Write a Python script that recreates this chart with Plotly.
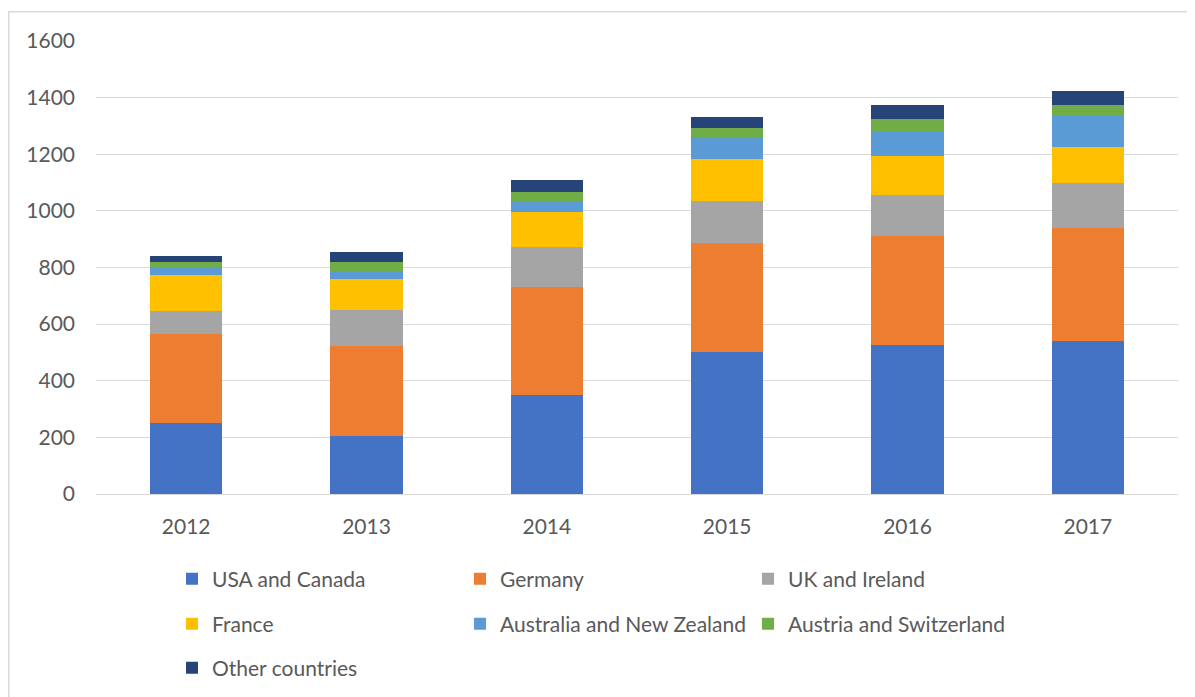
import plotly.graph_objects as go

years = ["2012", "2013", "2014", "2015", "2016", "2017"]
usa_canada = [251, 205, 350, 500, 528, 541]
germany = [313, 318, 381, 386, 384, 399]
uk_ireland = [81, 126, 141, 149, 145, 158]
france = [128, 109, 123, 149, 137, 126]
australia_nz = [26, 28, 35, 73, 86, 110]
austria_switz = [22, 35, 36, 37, 44, 40]
other = [19, 32, 42, 36, 51, 50]

series = [
    ("USA and Canada", usa_canada, "#4472C4", "legend"),
    ("Germany", germany, "#ED7D31", "legend"),
    ("UK and Ireland", uk_ireland, "#A5A5A5", "legend"),
    ("France", france, "#FFC000", "legend2"),
    ("Australia and New Zealand", australia_nz, "#5B9BD5", "legend2"),
    ("Austria and Switzerland", austria_switz, "#70AD47", "legend2"),
    ("Other countries", other, "#264478", "legend3"),
]

FONT = "Lato, 'Open Sans', sans-serif"
TXT = "#595959"
FS = 21

fig = go.Figure()
for name, vals, color, lg in series:
    fig.add_trace(go.Bar(x=years, y=vals, name=name, marker_color=color,
                         marker_line_width=0, legend=lg))

# page has an 8px body margin; figure is offset by (8, 8)
OFF = 8
W, H = 1195 - OFF, 697 - OFF
PL, PR, PT, PB = 96, 1178, 41, 494   # plot area in page pixels
L, T = PL - OFF, PT - OFF
R = W - (PR - OFF)
B = H - (PB - OFF)
pw = PR - PL
ph = PB - PT

def px(x):
    return (x - PL) / pw

def py(y):
    return (PB - y) / ph

def cx(x):
    return (x - OFF) / W

def cy(y):
    return 1 - (y - OFF) / H

leg_common = dict(orientation="h", traceorder="normal", entrywidth=243,
                  itemwidth=30, font=dict(family=FONT, size=FS, color=TXT),
                  bgcolor="rgba(0,0,0,0)", xanchor="left", yanchor="middle",
                  xref="container", yref="container", x=cx(172))

fig.update_layout(
    width=W, height=H,
    margin=dict(l=L, r=R, t=T, b=B),
    barmode="stack", bargap=0.6,
    paper_bgcolor="white", plot_bgcolor="white",
    font=dict(family=FONT, size=FS, color=TXT),
    legend=dict(**leg_common, y=cy(579)),
    legend2=dict(**leg_common, y=cy(624)),
    legend3=dict(**leg_common, y=cy(668)),
    xaxis=dict(showline=True, linecolor="#D9D9D9", linewidth=1, ticks="",
               ticklabelstandoff=14, automargin=False,
               tickfont=dict(family=FONT, size=FS, color=TXT)),
    yaxis=dict(range=[0, 1600], dtick=200, showgrid=True, gridcolor="#D9D9D9",
               gridwidth=1, zeroline=False, ticks="", ticklabelstandoff=20,
               automargin=False,
               tickfont=dict(family=FONT, size=FS, color=TXT)),
    shapes=[
        dict(type="line", xref="paper", yref="paper",
             x0=px(8.75), x1=px(8.75), y0=py(11), y1=py(720),
             line=dict(color="#D9D9D9", width=1.5)),
        dict(type="line", xref="paper", yref="paper",
             x0=px(8), x1=px(1220), y0=py(11.75), y1=py(11.75),
             line=dict(color="#D9D9D9", width=1.5)),
    ],
)

fig.write_html("out.html")
